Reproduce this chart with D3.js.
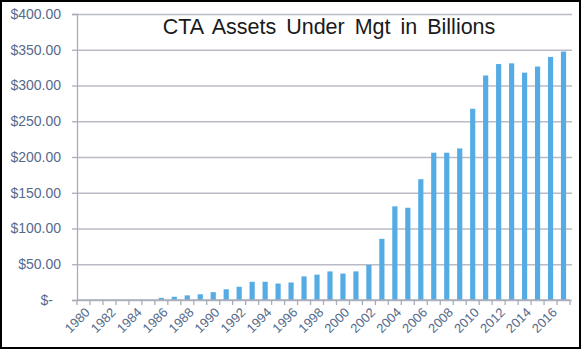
<!DOCTYPE html>
<html>
<head>
<meta charset="utf-8">
<script src="https://cdn.jsdelivr.net/npm/d3@7"></script>
<style>
  body { margin: 0; background: #fff; }
  svg { display: block; font-family: "Liberation Sans", Arial, sans-serif; }
</style>
</head>
<body>
<svg id="chart" width="581" height="350"></svg>
<script>
const years = d3.range(1980, 2018);
const assets = [0, 0, 0, 0, 0, 0, 3, 4.5, 6.5, 8, 11, 15, 18.5, 25.5, 25.5, 23, 24.5, 33, 35.5, 40,
  37, 40, 49, 85.5, 131, 129, 169, 206, 206, 212, 267.5, 314, 330, 331, 318, 326.5, 340, 347.5];
const yTicks = [0, 50, 100, 150, 200, 250, 300, 350, 400];
const title = "CTA Assets Under Mgt in Billions";

const svg = d3.select("#chart");
const margin = { top: 14, right: 11, bottom: 50, left: 77 };
const width = +svg.attr("width") - margin.left - margin.right;
const height = +svg.attr("height") - margin.top - margin.bottom;
const g = svg.append("g").attr("transform", `translate(${margin.left},${margin.top})`);

const x = d3.scaleBand().domain(years).range([0, width]).paddingInner(0.6).paddingOuter(0.3);
const y = d3.scaleLinear().domain([0, 400]).range([height, 0]);

// gridlines
g.append("g")
  .call(d3.axisLeft(y).tickValues(yTicks).tickSize(-width - 2).tickFormat(""))
  .call(a => a.select(".domain").remove())
  .call(a => a.selectAll("line").attr("stroke", "#b9bcc5").attr("stroke-width", 1.3));

// y axis labels
g.append("g")
  .call(d3.axisLeft(y).tickValues(yTicks).tickSize(5).tickPadding(11)
    .tickFormat(d => d === 0 ? "$-" : "$" + d3.format(".2f")(d)))
  .call(a => a.select(".domain").attr("stroke", "#a9adb8").attr("stroke-width", 1.3))
  .call(a => a.selectAll("line").attr("stroke", "#a9adb8").attr("stroke-width", 1.3))
  .call(a => a.selectAll("text")
    .attr("fill", "#566a8c")
    .style("font-size", "14px")
    .attr("dx", d => d === 0 ? -8 : 0));

// bars
g.selectAll(".bar")
  .data(years.map((yr, i) => ({ yr, v: assets[i] })))
  .enter()
  .append("rect")
  .attr("class", "bar")
  .attr("x", d => x(d.yr))
  .attr("y", d => y(d.v))
  .attr("width", x.bandwidth())
  .attr("height", d => height - y(d.v))
  .attr("fill", "#55ace4");

// x axis: ticks on category boundaries
const step = x.step();
const xAxis = g.append("g").attr("transform", `translate(0,${height})`);
xAxis.append("line")
  .attr("x1", 0).attr("x2", width)
  .attr("stroke", "#a9adb8").attr("stroke-width", 1.3);
xAxis.selectAll(".tk")
  .data(d3.range(years.length + 1))
  .enter()
  .append("line")
  .attr("x1", i => i * step).attr("x2", i => i * step)
  .attr("y1", 0).attr("y2", 5)
  .attr("stroke", "#a9adb8").attr("stroke-width", 1.3);
xAxis.selectAll(".lbl")
  .data(years.filter(yr => yr % 2 === 0))
  .enter()
  .append("text")
  .attr("transform", d => `translate(${x(d) + x.bandwidth() / 2 + 4},${10}) rotate(-45)`)
  .attr("text-anchor", "end")
  .attr("dy", "0.35em")
  .attr("fill", "#566a8c")
  .style("font-size", "13px")
  .text(d => d);

// title
svg.append("text")
  .attr("x", 329)
  .attr("y", 34)
  .attr("text-anchor", "middle")
  .attr("fill", "#1a1a1a")
  .style("font-size", "21.5px")
  .style("word-spacing", "4px")
  .text(title);

// outer frame
svg.append("rect")
  .attr("x", 1).attr("y", 1)
  .attr("width", 579).attr("height", 347)
  .attr("fill", "none")
  .attr("stroke", "#000")
  .attr("stroke-width", 2);
</script>
</body>
</html>
